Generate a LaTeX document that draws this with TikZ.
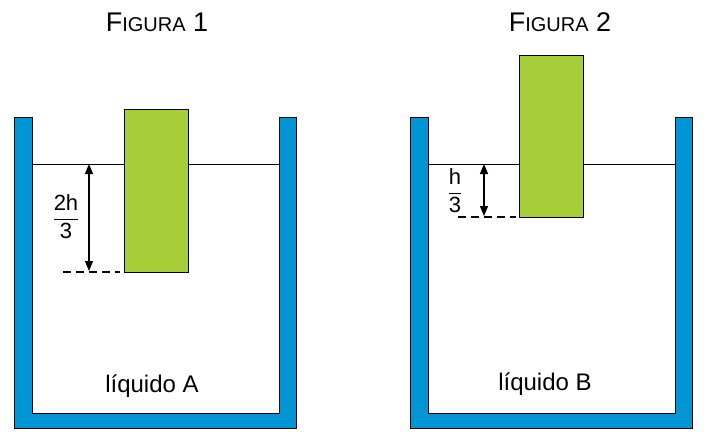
\documentclass[tikz,border=0pt]{standalone}
\usepackage{fontspec}
\setmainfont{Liberation Sans}
\usetikzlibrary{arrows.meta}
\definecolor{wallblue}{RGB}{0,150,214}
\definecolor{blockgreen}{RGB}{166,206,57}
\tikzset{
  wall/.style={fill=wallblue, draw=black, line width=0.8pt},
  block/.style={fill=blockgreen, draw=black, line width=0.8pt},
  dim/.style={line width=1.2pt, {Triangle[length=10pt,width=8pt]}-{Triangle[length=10pt,width=8pt]}},
  dashline/.style={line width=1.3pt, dash pattern=on 8pt off 5pt},
  lbl/.style={font=\fontsize{24}{28}\selectfont},
  ttl/.style={font=\fontsize{27}{30}\selectfont},
  frac/.style={font=\fontsize{22}{26}\selectfont},
}
\newcommand{\tank}[1]{% #1 = x offset
  \draw[wall] (#1+14,117) -- (#1+32,117) -- (#1+32,413) -- (#1+279,413) -- (#1+279,117)
    -- (#1+296,117) -- (#1+296,428) -- (#1+14,428) -- cycle;
  \draw[line width=0.8pt] (#1+32,164) -- (#1+279,164);
}
\newcommand{\sfrac}[2]{$\displaystyle\frac{\textrm{#1}}{\textrm{#2}}$}
\begin{document}
\begin{tikzpicture}[x=1pt,y=-1pt]
\useasboundingbox (0,0) rectangle (708,442);

% figura 1
\node[ttl] (t1) at (157,22) {F{\fontsize{20}{24}\selectfont IGURA} 1};
\tank{0}
\draw[block] (124,109) rectangle (188,272);
\coordinate (s1) at (89,164);
\coordinate (e1) at (89,271);
\draw[dim] (s1) -- (e1);
\draw[dashline] (63,272) -- (120,272);
\node[frac] (f1) at (66,217) {\sfrac{2h}{3}};
\node[lbl] (l1) at (152,386) {líquido A};

% figura 2
\node[ttl] (t2) at (560,22) {F{\fontsize{20}{24}\selectfont IGURA} 2};
\tank{396}
\draw[block] (519,55) rectangle (583,217);
\coordinate (s2) at (484,164);
\coordinate (e2) at (484,216);
\draw[dim] (s2) -- (e2);
\draw[dashline] (458,217) -- (516,217);
\node[frac] (f2) at (455,191) {\sfrac{h}{3}};
\node[lbl] (l2) at (545,384) {líquido B};
\end{tikzpicture}
\end{document}
